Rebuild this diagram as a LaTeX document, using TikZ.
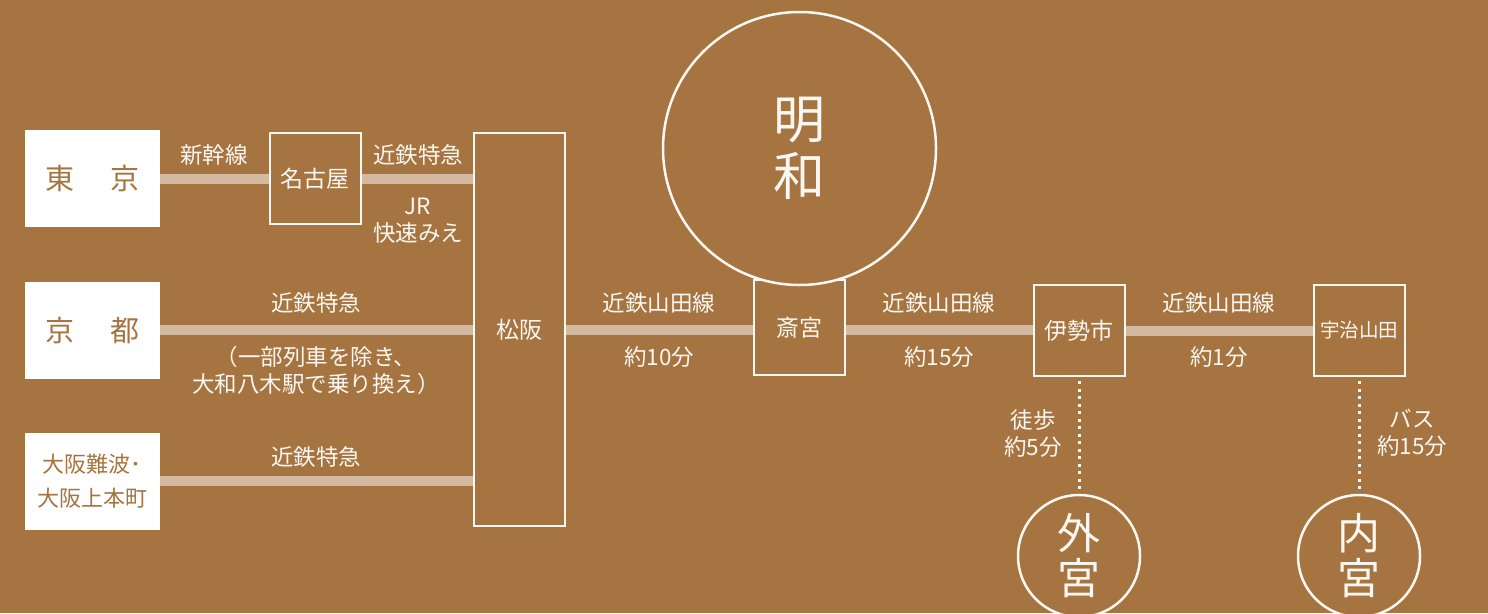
\documentclass[tikz,border=0pt]{standalone}
\usepackage{fontspec}
\newfontfamily\jp{Noto Sans CJK JP}
\definecolor{bg}{HTML}{A67440}
\definecolor{rail}{HTML}{D3B9A0}
\definecolor{ink}{HTML}{FBF7F2}
\tikzset{
  origin/.style={fill=white, draw=none, minimum width=135pt, minimum height=97pt, inner sep=0pt, text=bg, font=\jp\fontsize{29}{32}\selectfont, align=center},
  stationbox/.style={draw=ink, line width=2pt, minimum width=91pt, minimum height=91pt, inner sep=0pt, text=ink, font=\jp\fontsize{23}{26}\selectfont},
  railline/.style={draw=rail, line width=10pt},
  lbl/.style={text=ink, font=\jp\fontsize{22.5}{27}\selectfont, align=center, inner sep=0pt},
  shrine/.style={circle, draw=ink, fill=bg, line width=2.5pt, inner sep=0pt, text=ink, align=center},
  walk/.style={draw=ink, line width=3pt, dash pattern=on 3pt off 4.5pt}
}
\begin{document}
\begin{tikzpicture}[x=1pt,y=-1pt]
\useasboundingbox (0,0) rectangle (1488,613);
\fill[bg] (0,0) rectangle (1488,613);
% origins
\node[origin] (tokyo) at (92.5,178.5) {東\hspace{36pt}京};
\node[origin] (kyoto) at (92.5,330) {京\hspace{36pt}都};
\node[origin, font=\jp\fontsize{22}{34}\selectfont] (osaka) at (92.5,481) {大阪難波･\\大阪上本町};
% stations
\node[stationbox] (nagoya) at (315,178.5) {名古屋};
\node[stationbox, minimum height=393pt] (matsusaka) at (519.5,329.5) {松阪};
\node[stationbox, minimum height=95pt] (saiku) at (799.5,327.5) {斎宮};
\node[stationbox] (ise) at (1079,330.5) {伊勢市};
\node[stationbox, font=\jp\fontsize{19.5}{24}\selectfont] (uji) at (1359,330.5) {宇治山田};
% rail lines
\draw[railline] (tokyo.east) -- (nagoya.west);
\draw[railline] (nagoya.east) -- (nagoya.east -| matsusaka.west);
\draw[railline] (kyoto.east) -- (kyoto.east -| matsusaka.west);
\draw[railline] (osaka.east) -- (osaka.east -| matsusaka.west);
\draw[railline] (matsusaka.east |- saiku.west) ++(0,2.5) coordinate (m1) -- (m1 -| saiku.west);
\draw[railline] (saiku.east) ++(0,2.5) coordinate (s1) -- (s1 -| ise.west);
\draw[railline] (ise.east) -- (uji.west);
% meiwa circle
\node[shrine, minimum size=273pt, font=\jp\fontsize{52}{57}\selectfont] (meiwa) at (799.5,148.5) {明\\和};
% labels
\node[lbl] (l1) at (214,155) {新幹線};
\node[lbl] (l2) at (418,155) {近鉄特急};
\node[lbl] (l3) at (418,221) {JR\\快速みえ};
\node[lbl] (l4) at (316,303) {近鉄特急};
\node[lbl] (l5) at (316,370) {（一部列車を除き、\\大和八木駅で乗り換え）};
\node[lbl] (l6) at (316,457) {近鉄特急};
\node[lbl] (l7) at (659,303) {近鉄山田線};
\node[lbl] (l8) at (659,357) {約10分};
\node[lbl] (l9) at (939,303) {近鉄山田線};
\node[lbl] (l10) at (939,357) {約15分};
\node[lbl] (l11) at (1219,303) {近鉄山田線};
\node[lbl] (l12) at (1219,357) {約1分};
\node[lbl] (l13) at (1033,433) {徒歩\\約5分};
\node[lbl] (l14) at (1412,433) {バス\\約15分};
% shrines
\node[shrine, minimum size=122pt, font=\jp\fontsize{43}{45}\selectfont] (geku) at (1079,556) {外\\宮};
\node[shrine, minimum size=122pt, font=\jp\fontsize{43}{45}\selectfont] (naiku) at (1359,556) {内\\宮};
\draw[walk] ([yshift=-4pt]ise.south) -- ([yshift=4pt]geku.north);
\draw[walk] ([yshift=-4pt]uji.south) -- ([yshift=4pt]naiku.north);
\end{tikzpicture}
\end{document}
